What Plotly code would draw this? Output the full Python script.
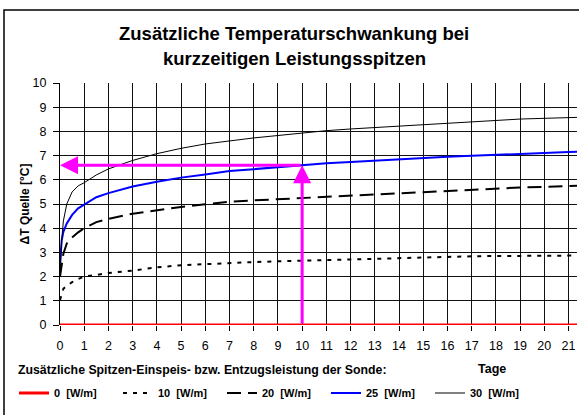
import plotly.graph_objects as go

# Tage
days = [0, 0.07, 0.14, 0.28, 0.5, 0.75, 1, 1.5, 2, 3, 4, 5, 6, 7, 8, 9, 10,
        11, 12, 13, 14, 15, 16, 17, 18, 19, 20, 21, 21.35]

# Delta T Quelle [°C] for each extra peak load
dt_0 = [0.0] * len(days)
dt_10 = [1.03, 1.3, 1.5, 1.62, 1.77, 1.9, 2.0, 2.07, 2.15, 2.25, 2.38, 2.47,
         2.52, 2.55, 2.6, 2.63, 2.66, 2.68, 2.7, 2.73, 2.77, 2.8, 2.82, 2.84,
         2.85, 2.86, 2.86, 2.87, 2.87]
dt_20 = [2.0, 2.6, 2.95, 3.37, 3.62, 3.83, 4.0, 4.25, 4.38, 4.6, 4.75, 4.88,
         4.99, 5.09, 5.15, 5.2, 5.24, 5.29, 5.34, 5.4, 5.46, 5.51, 5.56, 5.61,
         5.65, 5.68, 5.71, 5.74, 5.75]
dt_25 = [2.55, 3.5, 3.85, 4.2, 4.55, 4.82, 4.97, 5.28, 5.45, 5.72, 5.92, 6.09,
         6.22, 6.36, 6.44, 6.53, 6.61, 6.68, 6.74, 6.8, 6.86, 6.91, 6.95, 6.99,
         7.02, 7.07, 7.11, 7.15, 7.16]
dt_30 = [2.0, 3.5, 4.3, 5.0, 5.5, 5.75, 5.88, 6.2, 6.45, 6.8, 7.08, 7.3,
         7.48, 7.62, 7.73, 7.83, 7.94, 8.03, 8.1, 8.16, 8.22, 8.28, 8.33, 8.4,
         8.46, 8.51, 8.54, 8.57, 8.58]

# reading example shown with the magenta arrows
arrow_day = 10
arrow_dt = 6.6

FONT = "Arial, Liberation Sans, sans-serif"

# plot area in pixels (for placing the extra texts)
L, T, W, H = 60, 83, 517, 242


def px(x, y):
    return (x - L) / W, (T + H - y) / H


fig = go.Figure()

series = [
    ("<b>0\u00a0 [W/m]</b>", dt_0, dict(color="#ff0000", width=3)),
    ("<b>10\u00a0 [W/m]</b>", dt_10, dict(color="black", width=2, dash="4px,6px")),
    ("<b>20\u00a0 [W/m]</b>", dt_20, dict(color="black", width=2, dash="14px,7px")),
    ("<b>25\u00a0 [W/m]</b>", dt_25, dict(color="#0000ff", width=2)),
    ("<b>30\u00a0 [W/m]</b>", dt_30, dict(color="black", width=1)),
]
for name, vals, line in series:
    fig.add_trace(go.Scatter(x=days, y=vals, mode="lines", name=name, line=line))

# magenta arrows: up from the time axis, then left to the temperature axis
fig.add_annotation(x=arrow_day, y=arrow_dt, ax=arrow_day, ay=0,
                   xref="x", yref="y", axref="x", ayref="y", text="",
                   showarrow=True, arrowhead=2, arrowsize=1.2, arrowwidth=3,
                   arrowcolor="#ff00ff")
fig.add_annotation(x=0, y=arrow_dt, ax=arrow_day, ay=arrow_dt,
                   xref="x", yref="y", axref="x", ayref="y", text="",
                   showarrow=True, arrowhead=2, arrowsize=1.2, arrowwidth=3,
                   arrowcolor="#ff00ff")

# title (two lines)
for txt, ypx in [("Zusätzliche Temperaturschwankung bei", 34),
                 ("kurzzeitigen Leistungsspitzen", 58)]:
    x, y = px(294, ypx)
    fig.add_annotation(x=x, y=y, xref="paper", yref="paper",
                       text="<b>%s</b>" % txt, showarrow=False,
                       xanchor="center", yanchor="middle",
                       font=dict(family=FONT, size=18.5, color="black"))

x, y = px(16, 370)
fig.add_annotation(x=x, y=y, xref="paper", yref="paper", xanchor="left",
                   yanchor="middle", showarrow=False,
                   text="<b>Zusätzliche Spitzen-Einspeis- bzw. Entzugsleistung der Sonde:</b>",
                   font=dict(family=FONT, size=12.3, color="black"))
x, y = px(492, 369)
fig.add_annotation(x=x, y=y, xref="paper", yref="paper", xanchor="center",
                   yanchor="middle", text="<b>Tage</b>", showarrow=False,
                   font=dict(family=FONT, size=12.5, color="black"))

# outer frame of the chart (cut off on the right and bottom)
x0, y1 = px(4, 10)
fig.add_shape(type="rect", xref="paper", yref="paper",
              x0=x0, x1=1.2, y0=-0.5, y1=y1,
              line=dict(color="black", width=1.5), layer="below")

lx, ly = px(14, 393)
fig.update_layout(
    width=579, height=415,
    margin=dict(l=L, r=579 - L - W, t=T, b=415 - T - H),
    paper_bgcolor="white", plot_bgcolor="white",
    font=dict(family=FONT, size=12, color="black"),
    showlegend=True,
    legend=dict(orientation="h", x=lx, xanchor="left", y=ly, yanchor="middle",
                font=dict(family=FONT, size=11, color="black"),
                entrywidth=59, itemwidth=30, tracegroupgap=0,
                bgcolor="rgba(0,0,0,0)"),
)
fig.update_xaxes(range=[0, 21.35], tickmode="linear", tick0=0, dtick=1,
                 showgrid=True, gridcolor="#111", gridwidth=1,
                 zeroline=False, showline=False, ticks="outside", ticklen=5,
                 tickcolor="black", tickfont=dict(size=12.5),
                 ticklabelstandoff=4, automargin=False)
fig.update_yaxes(range=[0, 10], tickmode="linear", tick0=0, dtick=1,
                 showgrid=True, gridcolor="#111", gridwidth=1,
                 zeroline=False, showline=True, linecolor="black",
                 ticks="outside", ticklen=6, tickcolor="black",
                 tickfont=dict(size=12.5), ticklabelstandoff=4,
                 automargin=False,
                 title=dict(text="<b>\u0394T Quelle [°C]</b>",
                            font=dict(size=12), standoff=0))

# the page has a default body margin; drop it so the chart fills the window
fig.write_html("out.html", config={"displayModeBar": False},
               post_script="document.body.style.margin='0';")
